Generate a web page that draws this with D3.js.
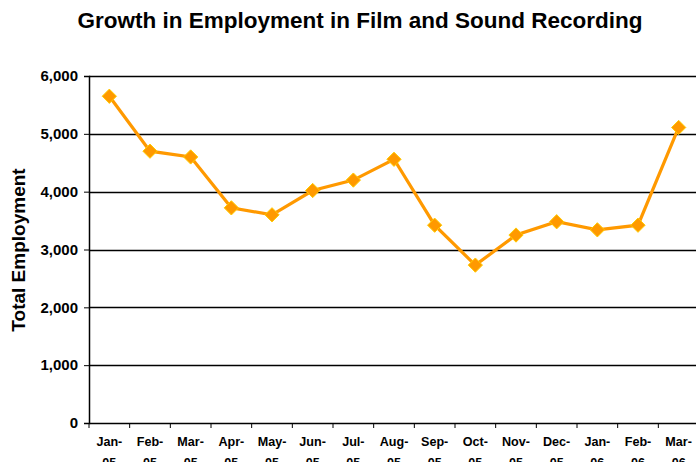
<!DOCTYPE html>
<html>
<head>
<meta charset="utf-8">
<script src="https://cdn.jsdelivr.net/npm/d3@7/dist/d3.min.js"></script>
<style>
body { margin: 0; background: #fff; }
text { font-family: "Liberation Sans", Arial, sans-serif; font-weight: bold; }
</style>
</head>
<body>
<div id="chart"></div>
<script>
// chart data
var months = ["Jan-|05", "Feb-|05", "Mar-|05", "Apr-|05", "May-|05", "Jun-|05", "Jul-|05", "Aug-|05",
              "Sep-|05", "Oct-|05", "Nov-|05", "Dec-|05", "Jan-|06", "Feb-|06", "Mar-|06"];
var employment = [5650, 4700, 4600, 3720, 3600, 4020, 4200, 4560, 3420, 2730, 3250, 3480, 3340, 3420, 5110];
var yTicks = [0, 1000, 2000, 3000, 4000, 5000, 6000];

var w = 696, h = 462;
var margin = {left: 89, top: 76, right: -3, bottom: 39};

var svg = d3.select("#chart").append("svg")
    .attr("width", w)
    .attr("height", h);

var x = d3.scaleBand()
    .domain(months)
    .range([margin.left, w - margin.right]);

var y = d3.scaleLinear()
    .domain([0, 6000])
    .range([h - margin.bottom, margin.top]);

// title
svg.append("text")
    .attr("x", 360)
    .attr("y", 28)
    .attr("text-anchor", "middle")
    .style("font-size", "22.5px")
    .text("Growth in Employment in Film and Sound Recording");

// y axis label
svg.append("text")
    .attr("transform", "translate(25," + 250 + ") rotate(-90)")
    .attr("text-anchor", "middle")
    .style("font-size", "19px")
    .text("Total Employment");

// gridlines
svg.append("g")
    .selectAll("line")
    .data(yTicks.slice(1))
    .enter()
    .append("line")
    .attr("x1", margin.left)
    .attr("x2", w)
    .attr("y1", function(d) { return Math.round(y(d)) + 0.5; })
    .attr("y2", function(d) { return Math.round(y(d)) + 0.5; })
    .attr("stroke", "#000")
    .attr("stroke-width", 1.3);

// y axis
var yAxis = svg.append("g")
    .attr("transform", "translate(" + margin.left + ",0)")
    .call(d3.axisLeft(y).tickValues(yTicks).tickSize(5).tickFormat(d3.format(",")));
yAxis.select(".domain").attr("stroke-width", 1.5);
yAxis.selectAll("text")
    .style("font-size", "15px")
    .attr("x", -11)
    .attr("fill", "#000");

// x axis
var xAxis = svg.append("g")
    .attr("transform", "translate(0," + (h - margin.bottom) + ")")
    .call(d3.axisBottom(x).tickSize(0).tickFormat(""));
xAxis.select(".domain").attr("stroke-width", 1.5);

// category ticks between months
xAxis.selectAll(".cat-tick")
    .data(months)
    .enter()
    .append("line")
    .attr("x1", function(d) { return x(d); })
    .attr("x2", function(d) { return x(d); })
    .attr("y1", 0)
    .attr("y2", 5)
    .attr("stroke", "#000");

// two-line month labels
var labels = svg.append("g")
    .selectAll("text")
    .data(months)
    .enter()
    .append("text")
    .attr("text-anchor", "middle")
    .style("font-size", "12.6px")
    .attr("x", function(d) { return x(d) + x.bandwidth() / 2; });
labels.append("tspan")
    .attr("x", function(d) { return x(d) + x.bandwidth() / 2; })
    .attr("y", 446)
    .text(function(d) { return d.split("|")[0]; });
labels.append("tspan")
    .attr("x", function(d) { return x(d) + x.bandwidth() / 2; })
    .attr("y", 467)
    .text(function(d) { return d.split("|")[1]; });

// line
var line = d3.line()
    .x(function(d, i) { return x(months[i]) + x.bandwidth() / 2; })
    .y(function(d) { return y(d); });

svg.append("path")
    .datum(employment)
    .attr("d", line)
    .attr("fill", "none")
    .attr("stroke", "#FF9900")
    .attr("stroke-width", 3.2);

// diamond markers
svg.append("g")
    .selectAll("path")
    .data(employment)
    .enter()
    .append("path")
    .attr("d", d3.symbol().type(d3.symbolDiamond2).size(130))
    .attr("transform", function(d, i) {
        return "translate(" + (x(months[i]) + x.bandwidth() / 2) + "," + y(d) + ")";
    })
    .attr("fill", "#FF9900")
    .attr("stroke", "#FFCC00")
    .attr("stroke-width", 1);
</script>
</body>
</html>
